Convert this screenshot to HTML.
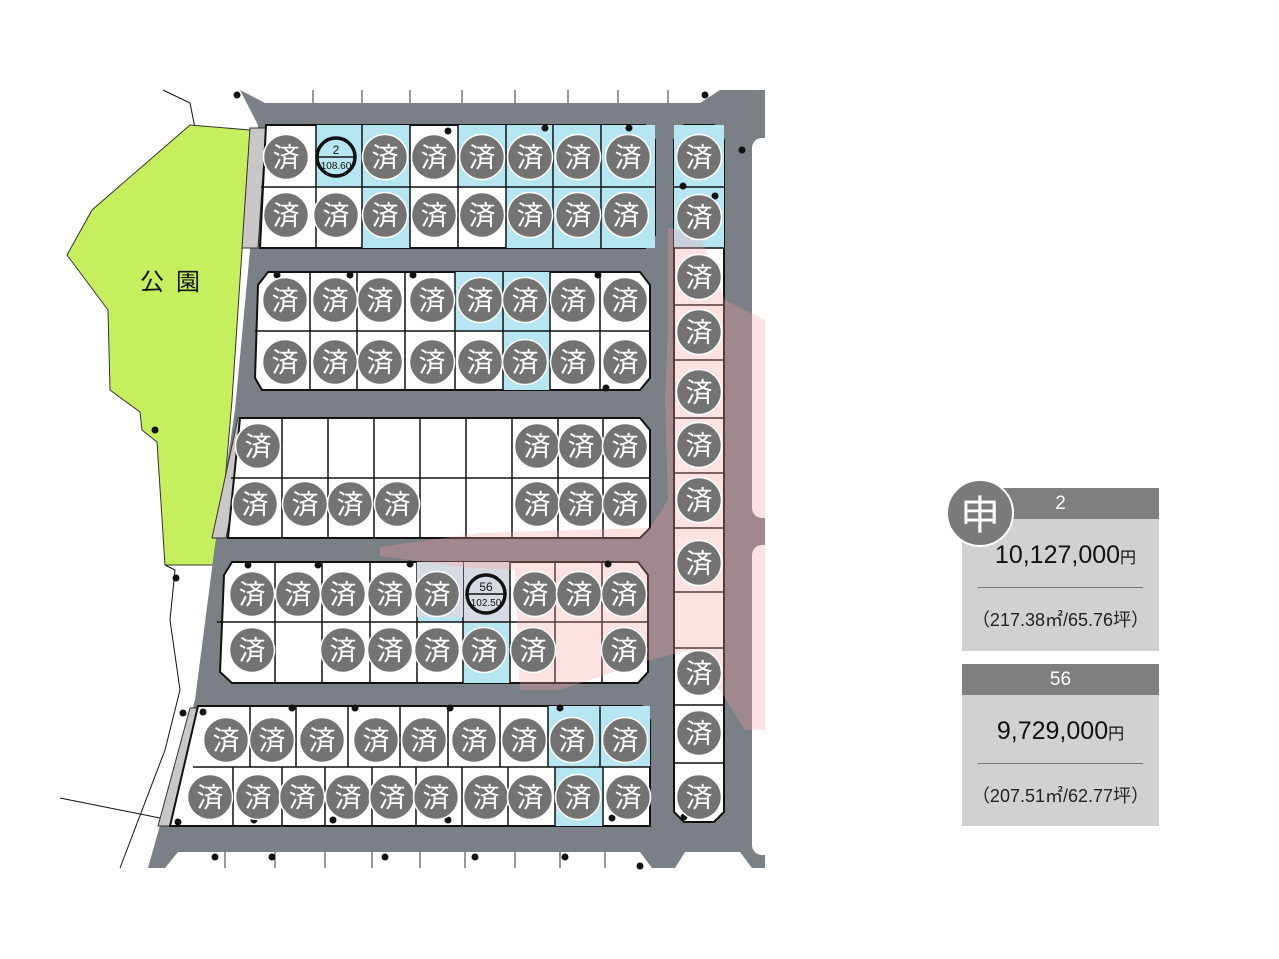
<!DOCTYPE html>
<html><head><meta charset="utf-8"><style>
html,body{margin:0;padding:0;background:#fff;width:1279px;height:959px;overflow:hidden;font-family:"Liberation Sans","Noto Sans CJK JP",sans-serif}
.card{position:absolute;left:962px;width:197px;background:#d1d1d1}
.hd{background:#7f7f7f;color:#fff;text-align:center;height:31px;line-height:31px;font-size:19px}
.pr{text-align:center;font-size:25px;color:#111;margin-top:22px;height:28px;line-height:28px}
.pr small{font-size:16px}
.ln{margin:18px 16px 0;border-top:1px solid #777}
.ar{text-align:center;font-size:18px;color:#222;margin-top:18px}
</style></head><body>
<svg id="s" width="1279" height="959" style="position:absolute;left:0;top:0" xmlns="http://www.w3.org/2000/svg"></svg>
<div class="card" style="top:488px;height:163px">
<div class="hd">2</div>
<div class="pr" style="padding-left:10px">10,127,000<small>円</small></div>
<div class="ln"></div>
<div class="ar">（217.38㎡/65.76坪）</div>
</div>
<div style="position:absolute;left:946px;top:479px;width:64px;height:64px;border-radius:50%;background:#7a7a7a;border:2px solid #fff;color:#fff;font-size:40px;line-height:62px;text-align:center;font-family:'Noto Sans CJK JP',sans-serif">申</div>
<div class="card" style="top:664px;height:162px">
<div class="hd">56</div>
<div class="pr">9,729,000<small>円</small></div>
<div class="ln"></div>
<div class="ar">（207.51㎡/62.77坪）</div>
</div>
<script>
var s=document.getElementById('s'),h='';
function P(pts,f,st,sw,op){h+='<polygon points="'+pts+'" fill="'+f+'" stroke="'+(st||'none')+'" stroke-width="'+(sw||1)+'"'+(op?' opacity="'+op+'"':'')+'/>';}
function R(x,y,w,hh,f,st){h+='<rect x="'+x+'" y="'+y+'" width="'+w+'" height="'+hh+'" fill="'+f+'" stroke="'+(st||'none')+'" stroke-width="1.5"/>';}
function L(a,b,c,d,st,w){h+='<line x1="'+a+'" y1="'+b+'" x2="'+c+'" y2="'+d+'" stroke="'+(st||'#111')+'" stroke-width="'+(w||1.5)+'"/>';}
function D(x,y){h+='<circle cx="'+x+'" cy="'+y+'" r="3.5" fill="#111"/>';}
function C(x,y){h+='<circle cx="'+x+'" cy="'+y+'" r="22.5" fill="#737373" stroke="#fff" stroke-width="1.5"/><text x="'+x+'" y="'+(y+10)+'" font-size="27" fill="#fff" text-anchor="middle" font-family="Noto Sans CJK JP,sans-serif">済</text>';}
function N(x,y,a,b){h+='<circle cx="'+x+'" cy="'+y+'" r="19" fill="none" stroke="#111" stroke-width="3.5"/><line x1="'+(x-18)+'" y1="'+y+'" x2="'+(x+18)+'" y2="'+y+'" stroke="#111" stroke-width="1.5"/><text x="'+x+'" y="'+(y-3)+'" font-size="12" text-anchor="middle" fill="#111">'+a+'</text><text x="'+x+'" y="'+(y+12)+'" font-size="10" text-anchor="middle" fill="#111">'+b+'</text>';}
h+='<polyline points="163,90 190,103 195,128" fill="none" stroke="#111" stroke-width="1"/>';
h+='<polyline points="165,565 175,570 170,620 180,690 165,750 120,868" fill="none" stroke="#111" stroke-width="1"/>';
L(60,798,170,820,'#111',1);
P('190,125 250,130 232,400 218,565 165,565 157,442 142,430 140,412 110,390 108,310 67,255 92,210','#c6ef5e','#333',1);
h+='<text x="140" y="290" font-size="24" fill="#111" font-family="Noto Sans CJK JP,sans-serif" letter-spacing="12">公園</text>';
P('240,90 265,103 700,103 720,90 765,90 765,868 752,868 740,852 685,852 675,868 652,868 640,852 178,852 165,868 148,868 195,700 215,545 235,410 250,250 258,125','#7b8087');
h+='<rect x="752" y="138" width="30" height="380" rx="10" fill="#fff"/><rect x="752" y="545" width="30" height="310" rx="10" fill="#fff"/>';
[313,362,410,462,515,568,618,668].forEach(function(x){L(x,90,x,103,'#333',1)});
[225,275,325,372,420,465,515,560,605].forEach(function(x){L(x,852,x,868,'#333',1)});
D(237,95);D(705,95);D(742,150);D(215,857);D(272,857);D(385,857);D(475,857);D(565,857);D(640,866);
P('250,128 266,128 258,248 242,248','#c8c8c8','#333',1);
P('238,418 250,418 226,538 212,538','#c8c8c8','#333',1);
P('190,708 205,708 172,826 158,826','#c8c8c8','#333',1);
function block(poly,rows,cols,blue){
 P(poly,'#fff','#111',2);
 blue.forEach(function(b){var r=rows[b[0]],c=cols[b[0]];R(c[b[1]],r[0],c[b[1]+1]-c[b[1]],r[1]-r[0],b[2]||'#b5e6f2');});
 rows.forEach(function(r,i){cols[i].forEach(function(x,j){if(j>0&&j<cols[i].length-1)L(x,r[0],x,r[1]);});});
 L(cols[0][0]-5,rows[0][1],cols[0][cols[0].length-1],rows[0][1]);
}
var c1=[266,316,362,410,458,506,553,601,655];
block('266,125 645,125 655,140 655,235 645,248 260,248',[[125,187],[187,248]],[c1,c1],[[0,1],[0,2],[0,4],[0,5],[0,6],[0,7],[1,2],[1,5],[1,6],[1,7]]);
var c2=[260,310,357,405,455,503,550,600,650];
block('268,272 640,272 650,285 650,378 640,390 262,390 255,378 258,285',[[272,331],[331,390]],[c2,c2],[[0,4],[0,5],[1,5]]);
var c3=[236,282,328,374,420,466,512,558,603,650];
block('240,418 640,418 650,430 650,528 640,538 228,538',[[418,478],[478,538]],[c3,c3],[]);
var c4=[222,275,322,370,417,463,510,555,602,648];
block('232,562 638,562 648,575 648,672 638,683 232,683 220,672 224,575',[[562,622],[622,683]],[c4,c4],[[0,4,'#b5e6f2'],[0,5,'#d6dbe3'],[1,5]]);
R(417,562,46,55,'#d6dbe3');
var c5a=[198,250,296,348,400,448,500,548,600,650],c5b=[182,233,282,325,372,416,462,508,555,603,650];
block('198,706 642,706 650,720 650,826 170,826',[[706,767],[767,826]],[c5a,c5b],[[0,7],[0,8],[1,8]]);
var ry=[125,187,248,305,360,418,473,528,592,648,705,763,822];
P('684,125 714,125 724,140 724,812 714,822 684,822 674,812 674,140','#fff','#111',2);
R(674,125,50,123,'#b5e6f2');
ry.forEach(function(y,i){if(i>0&&i<ry.length-1)L(674,y,724,y);});
// pink overlay (below circles)
P('668,228 700,235 725,300 765,320 765,730 745,730 720,690 700,678 690,650 650,660 560,690 520,690 515,570 470,568 380,556 380,547 480,533 650,528 668,500 665,400 668,330','#f4a0a0','none',1,0.3);
[[277,275],[350,275],[413,275],[598,275],[606,388],[545,128],[629,128],[448,131],[683,186],[715,196],[248,565],[318,565],[410,564],[608,564],[292,708],[355,708],[450,708],[560,708],[183,713],[203,712],[178,822],[254,820],[333,820],[448,820],[612,818],[684,817],[155,430],[176,578]].forEach(function(d){D(d[0],d[1])});
[286,385,434,482,530,578,628].forEach(function(x){C(x,157)});
N(336,157,'2','108.60');
[286,336,385,434,482,530,578,626].forEach(function(x){C(x,215)});
[285,335,380,432,480,525,573,625].forEach(function(x){C(x,300);C(x,362)});
[258,537,581,625].forEach(function(x){C(x,446)});
[255,305,350,397,537,581,625].forEach(function(x){C(x,504)});
[252,298,343,390,437,535,579,624].forEach(function(x){C(x,594)});
N(486,594,'56','102.50');
[252,343,390,437,484,533,624].forEach(function(x){C(x,650)});
[226,272,322,376,424,474,524,572,625].forEach(function(x){C(x,740)});
[210,258,302,348,392,436,486,530,578,628].forEach(function(x){C(x,797)});
[157,217,277,332,392,445,500,563,673,733,797].forEach(function(y){C(699,y)});
s.innerHTML=h;
</script>
</body></html>
